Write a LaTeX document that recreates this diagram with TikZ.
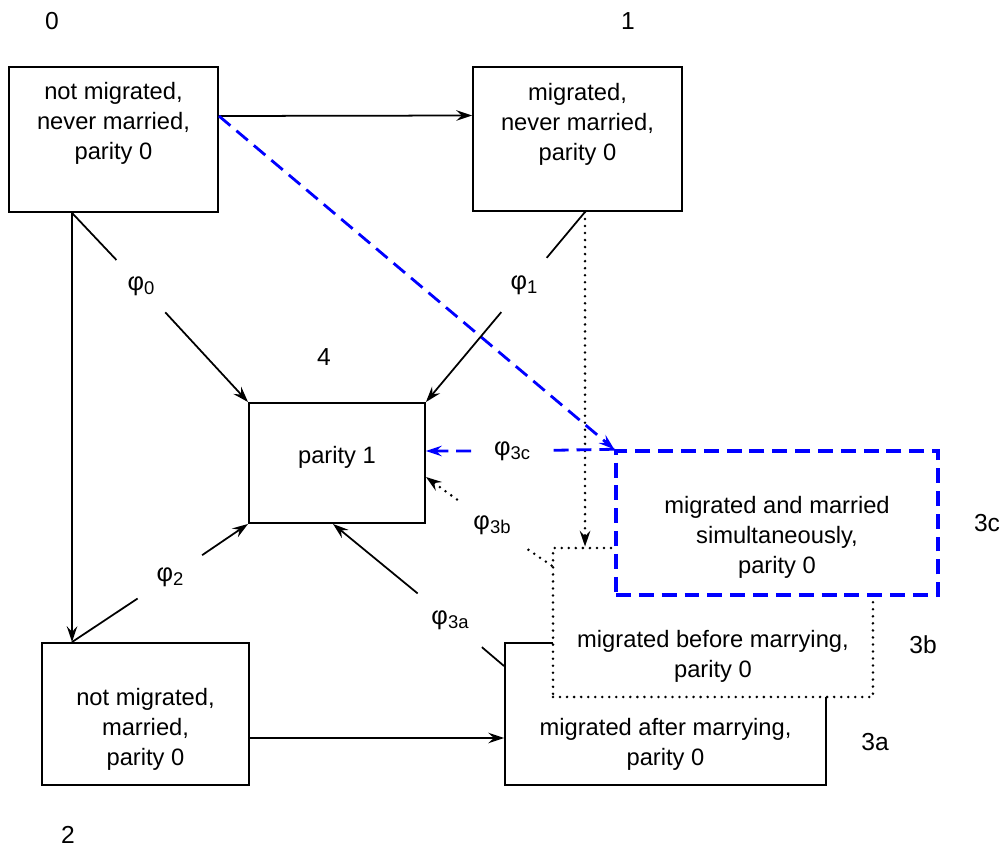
\documentclass[tikz,border=0pt]{standalone}
\usepackage{fontspec}
\setmainfont{Liberation Sans}
\usetikzlibrary{arrows.meta, positioning, calc}

\newcommand{\rate}[1]{φ\raisebox{-0.3ex}{\fontsize{10.5}{12}\selectfont #1}}

\begin{document}
\begin{tikzpicture}[
    x=0.02cm, y=-0.02cm, % pixel grid
    >={Stealth[length=9pt,width=6pt,inset=3.2pt]},
    state/.style={
        rectangle,
        draw,
        fill=white,
        line width=1.1pt,
        inner sep=0pt
    },
    statetext/.style={align=center, font=\fontsize{13.5}{17.07}\selectfont},
    num/.style={font=\fontsize{14}{17}\selectfont},
    phi/.style={circle, inner sep=0pt, font=\fontsize{14.5}{17}\selectfont},
    line/.style={->, line width=1pt},
    dotline/.style={->, line width=1.6pt, line cap=round, dash pattern=on 0pt off 4pt},
    blueline/.style={->, blue, line width=1.6pt, dash pattern=on 8.5pt off 4.5pt}
]
\useasboundingbox (0,0) rectangle (1002,848);

    % states
    \node[state, minimum width=4.18cm, minimum height=2.9cm,
        label={[statetext, yshift=0.33cm]center:{not migrated,\\never married,\\parity 0}}]
        (nevermig) at (113.5,139.5) {};
    \node[state, minimum width=4.18cm, minimum height=2.88cm,
        label={[statetext, yshift=0.3cm]center:{migrated,\\never married,\\parity 0}}]
        (migsingle) at (577.5,139) {};
    \node[state, minimum width=3.52cm, minimum height=2.4cm,
        label={[statetext, yshift=0.12cm]center:{parity 1}}]
        (parity1) at (337,463) {};
    \node[state, minimum width=4.14cm, minimum height=2.84cm,
        label={[statetext, yshift=-0.3cm]center:{not migrated,\\married,\\parity 0}}]
        (married) at (145.5,714) {};
    \node[state, minimum width=6.42cm, minimum height=2.84cm,
        label={[statetext, yshift=-0.6cm]center:{migrated after marrying,\\parity 0}}]
        (migafter) at (665.5,714) {};
    \node[state, line width=1.6pt, line cap=round, dash pattern=on 0pt off 4pt,
        minimum width=6.4cm, minimum height=2.98cm,
        label={[statetext, yshift=-0.68cm]center:{migrated before marrying,\\parity 0}}]
        (migbefore) at (713,622.5) {};
    \node[state, draw=blue, line width=2pt, dash pattern=on 8.5pt off 4.5pt,
        minimum width=6.44cm, minimum height=2.88cm,
        label={[statetext, yshift=-0.29cm]center:{migrated and married\\simultaneously,\\parity 0}}]
        (migsimul) at (777,523) {};

    % state numbers
    \node[num] (lab0) at (52,21) {0};
    \node[num] (lab1) at (628,21) {1};
    \node[num] (lab4) at (324,357) {4};
    \node[num] (lab2) at (68,835) {2};
    \node[num] (lab3a) at (875,742) {3a};
    \node[num] (lab3b) at (923,645) {3b};
    \node[num] (lab3c) at (987,523) {3c};

    % rates
    \node[phi, minimum size=1.42cm] (phi0) at (141,286) {\rate{0}};
    \node[phi, minimum size=1.4cm] (phi1) at (524,285) {\rate{1}};
    \node[phi, minimum size=1.54cm] (phi2) at (170,577) {\rate{2}};
    \node[phi, minimum size=1.66cm] (phi3a) at (450,620) {\rate{3a}};
    \node[phi, minimum size=1.72cm] (phi3b) at (492,525) {\rate{3b}};
    \node[phi, minimum size=1.62cm] (phi3c) at (512,451) {\rate{3c}};

    \coordinate (a0) at ([xshift=1.28cm]nevermig.south west);
    \coordinate (a1) at ([xshift=2.26cm]migsingle.south west);
    \coordinate (a2) at (a0 |- married.north);

    % transitions
    \draw[line] ([yshift=0.47cm]nevermig.east) -- ([yshift=0.47cm]migsingle.west);
    \draw[line] (a0) -- (a2);
    \draw[line] ([yshift=-0.48cm]married.east) -- ([yshift=-0.48cm]migafter.west);
    \draw[dotline] (a1) -- (a1 |- migbefore.north);
    \draw[blueline] ([yshift=0.47cm]nevermig.east) -- (migsimul.north west);

    % births
    \draw[line] (a0) -- (phi0) -- (parity1.north west);
    \draw[line] (a1) -- (phi1) -- (parity1.north east);
    \draw[line] (a2) -- (phi2) -- (parity1.south west);
    \draw[line] ([yshift=-0.48cm]migafter.north west) -- (phi3a) -- ([xshift=-0.08cm]parity1.south);
    \draw[dotline] ([yshift=-0.38cm]migbefore.north west) -- (phi3b) -- ([yshift=-0.28cm]parity1.east);
    \draw[blueline] (migsimul.north west) -- (phi3c) -- ([yshift=0.24cm]parity1.east);

\end{tikzpicture}
\end{document}
